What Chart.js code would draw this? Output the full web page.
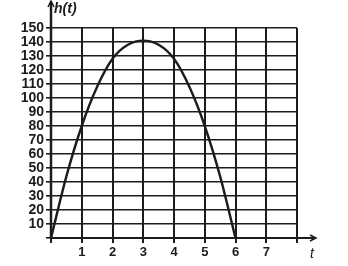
<!DOCTYPE html>
<html>
<head>
<meta charset="utf-8">
<script src="https://cdn.jsdelivr.net/npm/chart.js@4"></script>
<style>
  html, body { margin: 0; padding: 0; background: #fff; }
  canvas { display: block; }
</style>
</head>
<body>
<canvas id="heightChart" width="348" height="266"></canvas>
<script>
// values
const tValues = [0, 0.5, 1, 1.5, 2, 2.5, 3, 3.5, 4, 4.5, 5, 5.5, 6];
const hValues = [0, 44, 80, 108, 128, 138, 141, 138, 128, 108, 80, 44, 0];
const xTicks = [1, 2, 3, 4, 5, 6, 7];
const yTicks = [10, 20, 30, 40, 50, 60, 70, 80, 90, 100, 110, 120, 130, 140, 150];

const ink = '#1c1c1c';

// axis arrows and axis names
const axisArrows = {
    id: 'axisArrows',
    afterDraw(chart) {
        const ctx = chart.ctx;
        const x0 = chart.scales.x.getPixelForValue(0);
        const y0 = chart.scales.y.getPixelForValue(0);
        ctx.save();
        ctx.strokeStyle = ink;
        ctx.fillStyle = ink;
        ctx.lineWidth = 2.5;
        // y axis
        ctx.beginPath();
        ctx.moveTo(x0, y0);
        ctx.lineTo(x0, 2);
        ctx.stroke();
        ctx.beginPath();
        ctx.moveTo(x0 - 3, 7);
        ctx.lineTo(x0, 1);
        ctx.lineTo(x0 + 3, 7);
        ctx.lineWidth = 1.5;
        ctx.stroke();
        // x axis
        ctx.lineWidth = 2;
        ctx.beginPath();
        ctx.moveTo(x0, y0);
        ctx.lineTo(315, y0);
        ctx.stroke();
        ctx.beginPath();
        ctx.moveTo(310, y0 - 3);
        ctx.lineTo(316, y0);
        ctx.lineTo(310, y0 + 3);
        ctx.lineWidth = 1.5;
        ctx.stroke();
        // labels
        ctx.font = 'bold italic 14px "Liberation Sans"';
        ctx.textBaseline = 'middle';
        ctx.textAlign = 'left';
        ctx.fillText('h(t)', x0 + 3, 9);
        ctx.font = 'italic 14px "Liberation Sans"';
        ctx.fillText('t', 310, 254);
        ctx.restore();
    }
};

const ctx = document.getElementById('heightChart').getContext('2d');
new Chart(ctx, {
    type: 'line',
    data: {
        datasets: [{
            label: 'h(t)',
            data: tValues.map((t, i) => ({ x: t, y: hValues[i] })),
            borderColor: ink,
            borderWidth: 2.4,
            pointRadius: 0,
            tension: 0.3,
            fill: false
        }]
    },
    options: {
        responsive: false,
        animation: false,
        devicePixelRatio: 1,
        layout: {
            padding: { left: 0, right: 51, top: 28, bottom: 0 }
        },
        plugins: {
            legend: { display: false },
            tooltip: { enabled: false }
        },
        scales: {
            x: {
                type: 'linear',
                min: 0,
                max: 8,
                afterBuildTicks: s => { s.ticks = [0, ...xTicks, 8].map(v => ({ value: v })); },
                afterFit: s => { s.height = 28; },
                border: { display: false },
                grid: {
                    color: ink,
                    lineWidth: 2,
                    tickLength: 5,
                    tickColor: ink
                },
                ticks: {
                    padding: 2,
                    color: ink,
                    font: { family: 'Liberation Sans', size: 13, weight: 'bold' },
                    callback: v => xTicks.includes(v) ? v : ''
                }
            },
            y: {
                min: 0,
                max: 150,
                afterBuildTicks: s => { s.ticks = [0, ...yTicks].map(v => ({ value: v })); },
                afterFit: s => { s.width = 51; },
                border: { display: false },
                grid: {
                    color: ink,
                    lineWidth: 1.6,
                    tickLength: 5,
                    tickColor: ink
                },
                ticks: {
                    padding: 2,
                    autoSkip: false,
                    color: ink,
                    font: { family: 'Liberation Sans', size: 14, weight: 'bold' },
                    callback: v => yTicks.includes(v) ? v : ''
                }
            }
        }
    },
    plugins: [axisArrows]
});
</script>
</body>
</html>
